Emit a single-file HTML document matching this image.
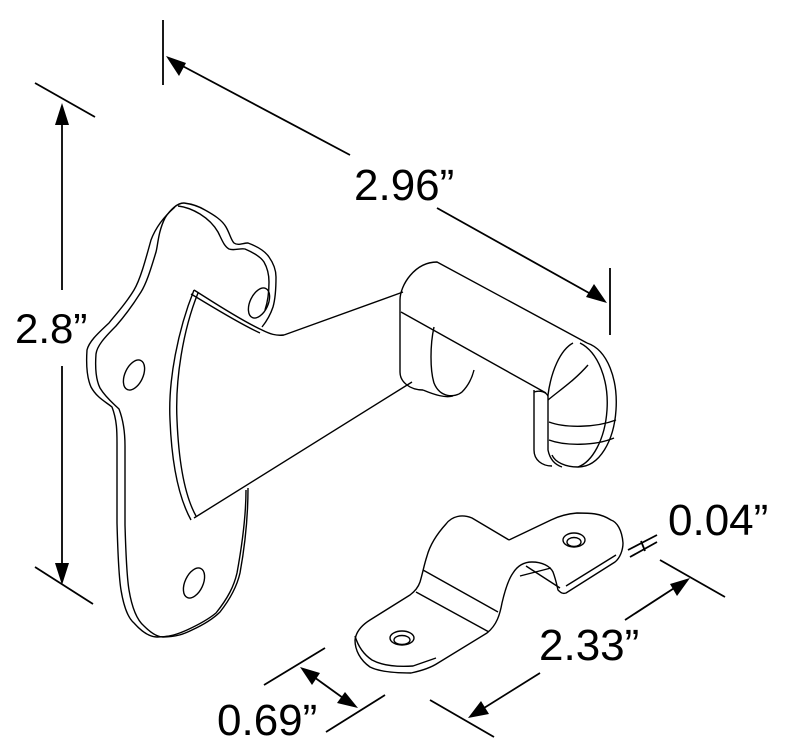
<!DOCTYPE html>
<html><head><meta charset="utf-8"><style>
html,body{margin:0;padding:0;background:#fff;width:787px;height:754px;overflow:hidden}
svg{display:block}
text{font-family:"Liberation Sans",Arial,sans-serif;font-size:44px;fill:#000}
</style></head><body>
<svg width="787" height="754" viewBox="0 0 787 754" xmlns="http://www.w3.org/2000/svg">
<g fill="none" stroke="#000" stroke-width="1.4" stroke-linejoin="round">
<path d="M175,207 C160,220 154,232 151,240 C145,262 140,280 134,290 C125,305 115,315 109,323 C96,335 89,342 87,350 C86,365 87,378 91,387 C97,398 106,402 112,407 C117,420 117,432 117,443 L117,523 C118,560 119,578 121,590 C124,608 128,618 134,623 C142,632 150,637 157,637 C170,637 178,634 187,630 C200,624 210,618 216,613 C228,598 234,586 237,573 C243,540 246,510 246,490"/>
<path d="M184,203 C177,203 170,210 165,218 C158,232 158,245 156,252 C150,272 146,284 141,292 C131,308 123,318 116,326 C104,338 97,346 96,354 C95,368 96,380 100,388 C106,398 114,404 119,409 C124,422 125,434 125,446 L125,525 C126,560 127,578 129,590 C132,608 137,620 144,626 C151,633 157,637 163,637 C176,637 184,634 192,630 C205,624 214,618 220,612 C231,598 237,586 240,573 C246,540 248,510 248,488"/>
<path d="M184,203 C192,204 200,207 205,210 C214,215 222,220 226,227 C230,234 231,240 234,243 C238,246 243,243 248,243 C256,246 265,251 269,257 C274,264 276,270 276,277 C276,290 275,300 273,307 C270,316 266,322 262,327"/>
<path d="M178,206 C187,207 195,211 200,214 C208,219 214,225 218,232 C222,240 224,246 229,249 C234,251 240,248 245,249 C252,252 260,256 264,262 C268,269 269,276 269,282 C269,295 267,304 265,310"/>
<ellipse cx="134" cy="375" rx="9" ry="16" transform="rotate(25 134 375)"/>
<ellipse cx="259" cy="303" rx="9" ry="16" transform="rotate(25 259 303)"/>
<ellipse cx="194" cy="583" rx="9" ry="16" transform="rotate(25 194 583)"/>
<path d="M194,290 C178,330 168,380 170,420 C172,470 180,500 191,520"/>
<path d="M198,293 C183,330 175,380 177,420 C179,468 186,498 196,516"/>
<path d="M194,290 C210,300 240,320 262,330 C270,334 276,336 284,335"/>
<path d="M191,294 C208,304 238,323 260,333"/>
<path d="M284,335 L403,292"/>
<path d="M194,518 L412,382"/>
<path d="M400,300 C400,285 415,262 437,262 L587,343"/>
<path d="M400,300 L400,372 C400,382 410,390 423,390"/>
<path d="M401,312 L546,393"/>
<path d="M434,327 C430,345 430,370 434,383 C440,398 455,398 462,392 C468,386 472,378 474,370"/>
<path d="M423,390 C435,395 445,398 453,396"/>
<path d="M587,343 C608,350 618,380 616,410 C614,440 600,467 578,467 C565,467 555,462 552,455"/>
<path d="M580,343 C598,352 609,380 607,410 C605,440 592,462 578,467"/>
<path d="M573,343 C560,350 551,372 548,395 L548,450 C550,460 556,465 562,467"/>
<path d="M534,390 L534,450 C534,460 542,466 552,466"/>
<path d="M534,392 C540,390 546,392 548,396"/>
<path d="M549,422 C565,428 595,428 616,420"/>
<path d="M549,440 C565,446 595,446 614,438"/>
<path d="M548,400 C560,390 575,380 588,365"/>
<path d="M355,640 C355,650 360,660 370,667 C380,672 395,673 411,673 C425,670 432,667 438,663 L487,633 C497,625 500,614 502,603 C505,590 508,580 513,573 C518,565 525,562 532,562 C542,562 550,566 553,572 C556,580 557,586 558,590 C561,593 563,594 566,593 L615,562 C620,558 623,550 623,543 C622,530 617,522 611,520 C600,513 590,513 577,513 C565,514 557,517 551,520 L509,540"/>
<path d="M355,636 C358,646 363,654 372,660 C383,666 398,667 413,666 L436,658"/>
<path d="M509,540 L472,518 C462,514 452,516 446,524 C436,535 430,545 427,556 C424,565 423,572 420,582 C418,588 414,592 410,595 L370,620 C362,625 356,632 355,640"/>
<path d="M423,570 L498,612"/>
<path d="M416,592 L489,632"/>
<path d="M551,568 L520,576"/>
<path d="M526,566 L560,588"/>
<path d="M616,555 L566,586"/>
<ellipse cx="402" cy="638" rx="12" ry="7"/>
<ellipse cx="402" cy="640" rx="8" ry="4.5"/>
<ellipse cx="574" cy="540" rx="11" ry="7"/>
<ellipse cx="574" cy="542" rx="7" ry="4.5"/>
</g>
<g stroke="#000" stroke-width="1.8" fill="none">
<line x1="35" y1="83" x2="95" y2="117"/>
<line x1="35" y1="567" x2="93" y2="604"/>
<line x1="62" y1="112" x2="62" y2="290"/>
<line x1="62" y1="366" x2="62" y2="576"/>
<line x1="163" y1="20" x2="163" y2="85"/>
<line x1="610" y1="268" x2="610" y2="335"/>
<line x1="175" y1="62" x2="350" y2="155"/>
<line x1="437" y1="208" x2="598" y2="298"/>
<line x1="660" y1="560" x2="725" y2="597"/>
<line x1="430" y1="700" x2="494" y2="737"/>
<line x1="682" y1="583" x2="625" y2="620"/>
<line x1="540" y1="673" x2="476" y2="713"/>
<line x1="264" y1="685" x2="325" y2="648"/>
<line x1="326" y1="732" x2="385" y2="695"/>
<line x1="307" y1="672" x2="350" y2="703"/>
<line x1="628" y1="550" x2="657" y2="535"/>
<line x1="630" y1="557" x2="657" y2="542"/>
<line x1="641" y1="541" x2="645" y2="551"/>
</g>
<g fill="#000">
<polygon points="62,103 55,125 69,125"/>
<polygon points="62,585 55,563 69,563"/>
<polygon points="166,56 186,63 179,76"/>
<polygon points="607,303 586,297 594,284"/>
<polygon points="690,578 670,584 677,596"/>
<polygon points="468,718 481,701 489,714"/>
<polygon points="300,667 320,673 312,685"/>
<polygon points="358,708 345,692 337,703"/>
</g>
<text x="15" y="343" style="font-size:42px">2.8”</text>
<text x="354" y="200">2.96”</text>
<text x="668" y="535">0.04”</text>
<text x="539" y="660">2.33”</text>
<text x="217" y="735">0.69”</text>
</svg>
</body></html>
